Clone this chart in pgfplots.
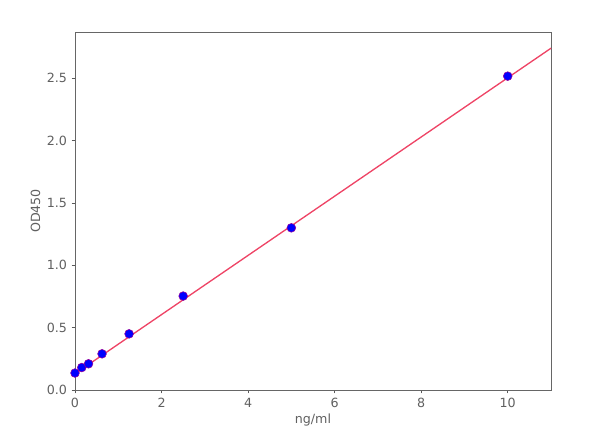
\documentclass[border=0pt]{standalone}
\usepackage{fontspec}
\setmainfont{DejaVu Sans}
\usepackage{pgfplots}
\pgfplotsset{compat=1.18}
\definecolor{fitline}{HTML}{EE4466}
\definecolor{txt}{HTML}{606060}
\begin{document}
\begin{tikzpicture}
  \path[use as bounding box] (-56.25pt,-38.25pt) rectangle (393.75pt,292.5pt);
  \begin{axis}[
      scale only axis,
      width=357pt, height=268.5pt,
      at={(0,0)}, anchor=south west,
      xmin=0, xmax=11, ymin=0, ymax=2.87,
      xtick={0,2,4,6,8,10},
      ytick={0,0.5,1,1.5,2,2.5},
      xtick pos=left, ytick pos=left,
      yticklabel style={/pgf/number format/.cd, fixed, fixed zerofill, precision=1},
      /pgf/number format/assume math mode=true,
      tick align=outside,
      tick style={gray!70!black, line width=0.5pt},
      major tick length=2.5pt,
      axis line style={gray!80!black, line width=0.6pt},
      ticklabel style={font=\fontsize{9.5}{11}\selectfont, text=txt},
      label style={font=\fontsize{9.5}{11}\selectfont, text=txt},
      xlabel={ng/ml},
      ylabel={OD450},
      xlabel style={yshift=2pt},
      ylabel style={yshift=-2pt},
      clip=false,
  ]
    \addplot[fitline, line width=1pt, forget plot] coordinates {(0,0.13) (11,2.74)};
    \addplot[only marks, mark=*, mark size=3.3pt,
             mark options={fill=blue, draw=violet!80!magenta, line width=0.4pt}]
      coordinates {
        (0,0.136) (0.156,0.18) (0.3125,0.21) (0.625,0.29)
        (1.25,0.45) (2.5,0.753) (5,1.30) (10,2.516)
      };
  \end{axis}
\end{tikzpicture}
\end{document}
